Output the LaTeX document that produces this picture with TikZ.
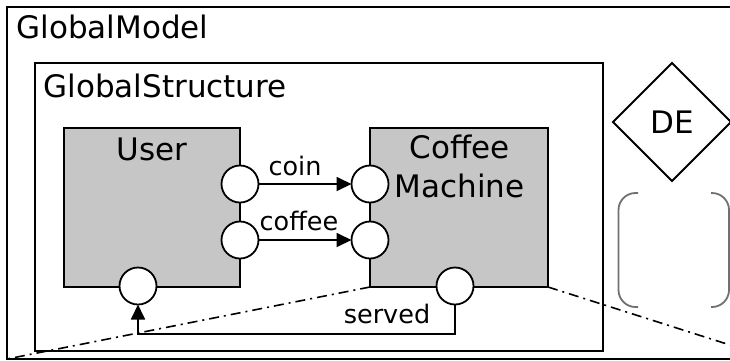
\documentclass[tikz,border=0pt]{standalone}
\usepackage{fontspec}
\setmainfont{DejaVu Sans}
\usetikzlibrary{arrows.meta,shapes.geometric}
\definecolor{blockgray}{RGB}{198,198,198}
\definecolor{stategray}{RGB}{112,112,112}

\begin{document}
\begin{tikzpicture}[
		x=1pt, y=-1pt,
		every node/.style={inner sep=0pt, outer sep=0pt},
		frame/.style={rectangle, draw, line width=2pt},
		block/.style={rectangle, draw, fill=blockgray, line width=1.8pt},
		port/.style={circle, draw, fill=white, minimum size=37pt, line width=1.8pt},
		big/.style={font=\fontsize{31}{37}\selectfont},
		small/.style={font=\fontsize{25.5}{30}\selectfont},
		flow/.style={line width=1.8pt, -{Triangle[length=15pt, width=14pt]}},
		zoomline/.style={line width=1.6pt, dash pattern=on 10pt off 5pt on 2pt off 5pt}
	]
  \clip (0,0) rectangle (730,360);
  \node (global_model) [frame, minimum width=767pt, minimum height=352pt] at (390.5,183) {};
  \node (global_model_label) [big, anchor=base west] at (16.5,38) {GlobalModel};
  \node (global_structure) [frame, minimum width=568pt, minimum height=288pt] at (319,207) {};
  \node (global_structure_label) [big, anchor=base west] at (43.5,97) {GlobalStructure};
  \node (user) [block, minimum width=176pt, minimum height=159pt] at (152,207.5) {};
  \node (user_label) [big, anchor=base] at (152,160) {User};
  \node (machine) [block, minimum width=178pt, minimum height=159pt] at (459,207.5) {};
  \node (machine_label_1) [big, anchor=base] at (460,158) {Coffee};
  \node (machine_label_2) [big, anchor=base] at (459.5,197) {Machine};
  \node (user_coin) [port] at (240,184) {};
  \node (user_coffee) [port] at (240,240) {};
  \node (user_served) [port] at (138,286) {};
  \node (machine_coin) [port] at (370,184) {};
  \node (machine_coffee) [port] at (370,240) {};
  \node (machine_served) [port] at (455,286) {};
  \coordinate (served_turn) at (300,334);
  \draw [flow] (user_coin) -- (machine_coin);
  \draw [flow] (user_coffee) -- (machine_coffee);
  \draw [flow] (machine_served) |- (served_turn) -| (user_served);
  \node (coin_label) [small, anchor=base] at (295,175) {coin};
  \node (coffee_label) [small, anchor=base] at (299,230) {coffee};
  \node (served_label) [small, anchor=base] at (387,323) {served};
  \node (de) [diamond, draw, line width=1.8pt, minimum width=118pt, minimum height=118pt, big] at (672,122) {DE};
  % empty state, only its rounded ends
  \draw [stategray, line width=1.8pt, rounded corners=17pt] (638,193) -- (618.5,193) -- (618.5,307) -- (638,307);
  \draw [stategray, line width=1.8pt, rounded corners=17pt] (711,193) -- (729,193) -- (729,307) -- (711,307);
  \draw [zoomline] (machine.south west) -- (global_model.south west);
  \draw [zoomline] (machine.south east) -- (global_model.south east);
\end{tikzpicture}
\end{document}
